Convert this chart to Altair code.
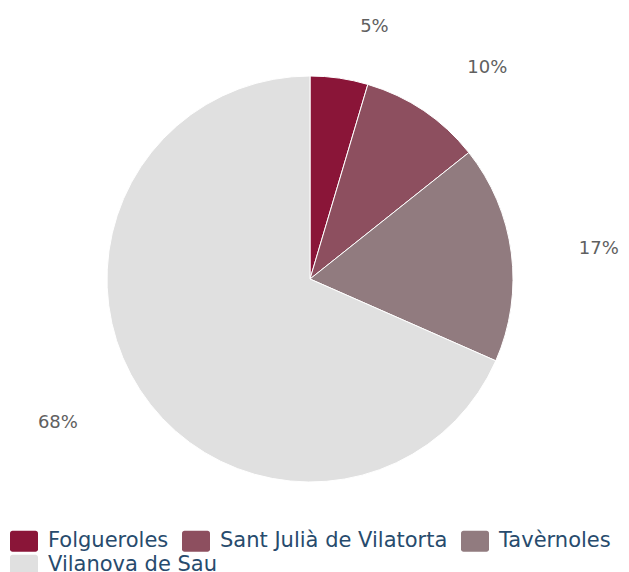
import altair as alt
import pandas as pd

municipis = ["Folgueroles", "Sant Julià de Vilatorta", "Tavèrnoles", "Vilanova de Sau"]
valors = [4.6, 9.7, 17.3, 68.4]
colors = ["#8a1538", "#8d4f5f", "#917b7f", "#e0e0e0"]

df = pd.DataFrame({"municipi": municipis, "valor": valors, "ordre": list(range(len(municipis)))})

rect_path = ("M-0.82,-0.75 H0.82 A0.18,0.18 0 0 1 1,-0.57 V0.57 A0.18,0.18 0 0 1 0.82,0.75 "
             "H-0.82 A0.18,0.18 0 0 1 -1,0.57 V-0.57 A0.18,0.18 0 0 1 -0.82,-0.75 Z")

cx, cy = 302, 271
scale = alt.Scale(domain=municipis, range=colors)
total = sum(valors)


def legend(vals, y):
    return alt.Legend(
        title=None, orient="none", legendX=2, legendY=y,
        direction="horizontal", columns=3, values=vals,
        symbolType=rect_path, symbolSize=784, symbolStrokeWidth=0,
        labelFont="DejaVu Sans", labelFontSize=21, labelColor="#274b6d",
        columnPadding=13, rowPadding=2, symbolOffset=0, labelOffset=10,
        labelLimit=400,
    )


base = alt.Chart(df).encode(
    theta=alt.Theta("valor:Q", stack=True),
    order=alt.Order("ordre:Q"),
)

pie = base.mark_arc(radius=203, stroke="white", strokeWidth=1).encode(
    x=alt.value(cx), y=alt.value(cy),
    color=alt.Color("municipi:N", scale=scale, sort=None,
                    legend=legend(municipis[:3], 519)),
)

pie_legend2 = base.mark_arc(radius=0, strokeWidth=0).encode(
    x=alt.value(cx), y=alt.value(cy),
    fill=alt.Fill("municipi:N", scale=scale, sort=None,
                  legend=legend(municipis[3:], 543)),
)

txt = alt.Chart(df).transform_stack(
    stack="valor", groupby=[], as_=["v0", "v1"], sort=[alt.SortField("ordre")]
).transform_calculate(
    mid="(datum.v0 + datum.v1) / 2",
    pct="format(datum.valor/100, '.0%')",
)

theta_mid = alt.Theta("mid:Q", stack=None, scale=alt.Scale(domain=[0, total], range=[0, 6.283185307179586]))

labels_right = txt.transform_filter("datum.ordre < 3").mark_text(
    radius=258, align="left", dx=13, dy=3, font="DejaVu Sans", fontSize=18, color="#606060"
).encode(theta=theta_mid, x=alt.value(cx), y=alt.value(cy), text="pct:N")

labels_left = txt.transform_filter("datum.ordre >= 3").mark_text(
    radius=258, align="right", dx=-16, dy=3, font="DejaVu Sans", fontSize=18, color="#606060"
).encode(theta=theta_mid, x=alt.value(cx), y=alt.value(cy), text="pct:N")

chart = alt.layer(pie, pie_legend2, labels_right, labels_left).resolve_scale(
    color="independent", fill="independent", theta="independent"
).properties(
    width=613, height=564, padding=0, autosize="none"
).configure_view(stroke=None)

chart.save("out.html", embed_options={"renderer": "svg", "actions": False})
